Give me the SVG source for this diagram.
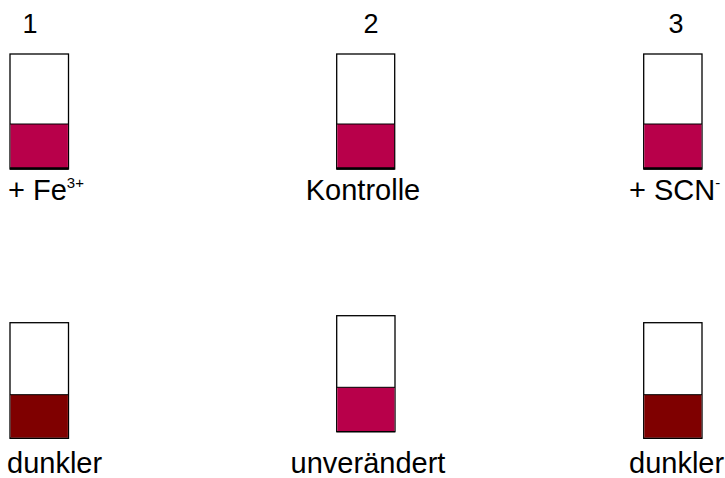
<svg xmlns="http://www.w3.org/2000/svg" width="725" height="478" viewBox="0 0 725 478">
<style>
text{font-family:"Liberation Sans",Arial,sans-serif;fill:#000}
.lbl{font-size:29px}
.num{font-size:27px}
.sup{font-size:15px}
.tube{fill:#fff;stroke:#000;stroke-width:1.3}
.red{fill:#B8004A}
.dark{fill:#7F0000}
.base{stroke:#000;stroke-width:2.6}
.edge{stroke:#000;stroke-width:1}
</style>
<rect width="725" height="478" fill="#fff"/>
<g id="tube1">
<text class="num" x="30" y="33" text-anchor="middle">1</text>
<rect class="tube" x="10" y="54" width="58.5" height="115"/>
<rect class="red" x="10.6" y="124" width="57.3" height="44.4"/>
<line class="base" x1="10" y1="168.5" x2="68.5" y2="168.5"/>
<line class="edge" x1="10" y1="124" x2="68.5" y2="124"/>
<text class="lbl" x="8" y="200">+ Fe<tspan class="sup" dy="-12">3+</tspan></text>
</g>
<g id="tube2">
<text class="num" x="371" y="33" text-anchor="middle">2</text>
<rect class="tube" x="336.7" y="54" width="58" height="115"/>
<rect class="red" x="337.3" y="124" width="56.8" height="44.4"/>
<line class="base" x1="336.7" y1="168.5" x2="394.7" y2="168.5"/>
<line class="edge" x1="336.7" y1="124" x2="394.7" y2="124"/>
<text class="lbl" x="363" y="200" text-anchor="middle">Kontrolle</text>
</g>
<g id="tube3">
<text class="num" x="676" y="33" text-anchor="middle">3</text>
<rect class="tube" x="643.7" y="54" width="58.3" height="115"/>
<rect class="red" x="644.3" y="124" width="57.1" height="44.4"/>
<line class="base" x1="643.7" y1="168.5" x2="702" y2="168.5"/>
<line class="edge" x1="643.7" y1="124" x2="702" y2="124"/>
<text class="lbl" x="629" y="200">+ SCN<tspan class="sup" dy="-12">-</tspan></text>
</g>
<g id="tube4">
<rect class="tube" x="10" y="322.7" width="58.5" height="115.6"/>
<rect class="dark" x="10.6" y="394.7" width="57.3" height="43"/>
<line class="edge" x1="10" y1="394.7" x2="68.5" y2="394.7"/>
<line x1="10" y1="438.3" x2="68.5" y2="438.3" stroke="#000" stroke-width="1.3"/>
<text class="lbl" x="7" y="473">dunkler</text>
</g>
<g id="tube5">
<rect class="tube" x="336.7" y="315.7" width="58.3" height="116"/>
<rect class="red" x="337.3" y="387.3" width="57.1" height="43.8"/>
<line class="edge" x1="336.7" y1="387.3" x2="395" y2="387.3"/>
<line x1="336.7" y1="431.7" x2="395" y2="431.7" stroke="#000" stroke-width="1.3"/>
<text class="lbl" x="368" y="473" text-anchor="middle">unverändert</text>
</g>
<g id="tube6">
<rect class="tube" x="643.7" y="322.7" width="58.3" height="115.6"/>
<rect class="dark" x="644.3" y="394.7" width="57.1" height="43"/>
<line class="edge" x1="643.7" y1="394.7" x2="702" y2="394.7"/>
<line x1="643.7" y1="438.3" x2="702" y2="438.3" stroke="#000" stroke-width="1.3"/>
<text class="lbl" x="629" y="473">dunkler</text>
</g>
<g id="connectors"></g>
</svg>
